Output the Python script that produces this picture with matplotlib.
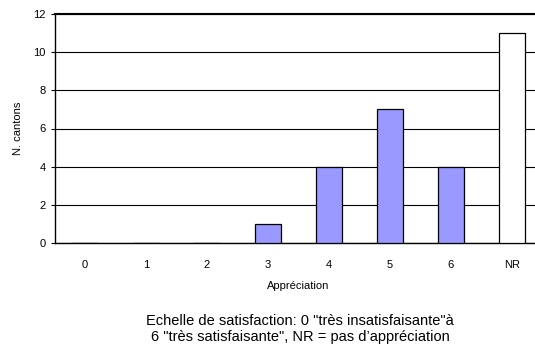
import matplotlib
matplotlib.use("Agg")
import matplotlib.pyplot as plt

categories = ["0", "1", "2", "3", "4", "5", "6", "NR"]
values = [0, 0, 0, 1, 4, 7, 4, 11]
colors = ["#9999FF"] * 7 + ["#FFFFFF"]

plt.rcParams['font.family'] = ['Liberation Sans', 'DejaVu Sans']

fig = plt.figure(figsize=(5.35, 3.47), dpi=100)
ax = fig.add_axes([54.5/535, 1-243/347, 488/535, (243-14)/347])

x = list(range(len(categories)))
ax.bar(x, values, width=0.41, color=colors, edgecolor="black", linewidth=0.9, zorder=3)
ax.set_xlim(-0.5, len(categories) - 0.5)
ax.set_ylim(0, 12)
ax.set_yticks(range(0, 13, 2))
ax.set_xticks(x)
ax.set_xticklabels(categories)
ax.yaxis.grid(True, color="black", linewidth=0.8, zorder=0)
ax.tick_params(axis="both", labelsize=8, length=3, width=0.8)
ax.tick_params(axis="x", length=0, pad=12)
for s in ["left", "bottom"]:
    ax.spines[s].set_linewidth(1.0)
ax.spines["top"].set_linewidth(1.5)
ax.spines["right"].set_visible(False)

ax.set_ylabel("N. cantons", fontsize=8, labelpad=7)
ax.set_xlabel("Appréciation", fontsize=8, labelpad=8)

fig.text(300/535, 1-329/347,
         "Echelle de satisfaction: 0 \"très insatisfaisante\"à\n6 \"très satisfaisante\", NR = pas d\u2019appréciation",
         ha="center", va="center", fontsize=10.5, linespacing=1.15)

fig.savefig("out.png", dpi=100)
